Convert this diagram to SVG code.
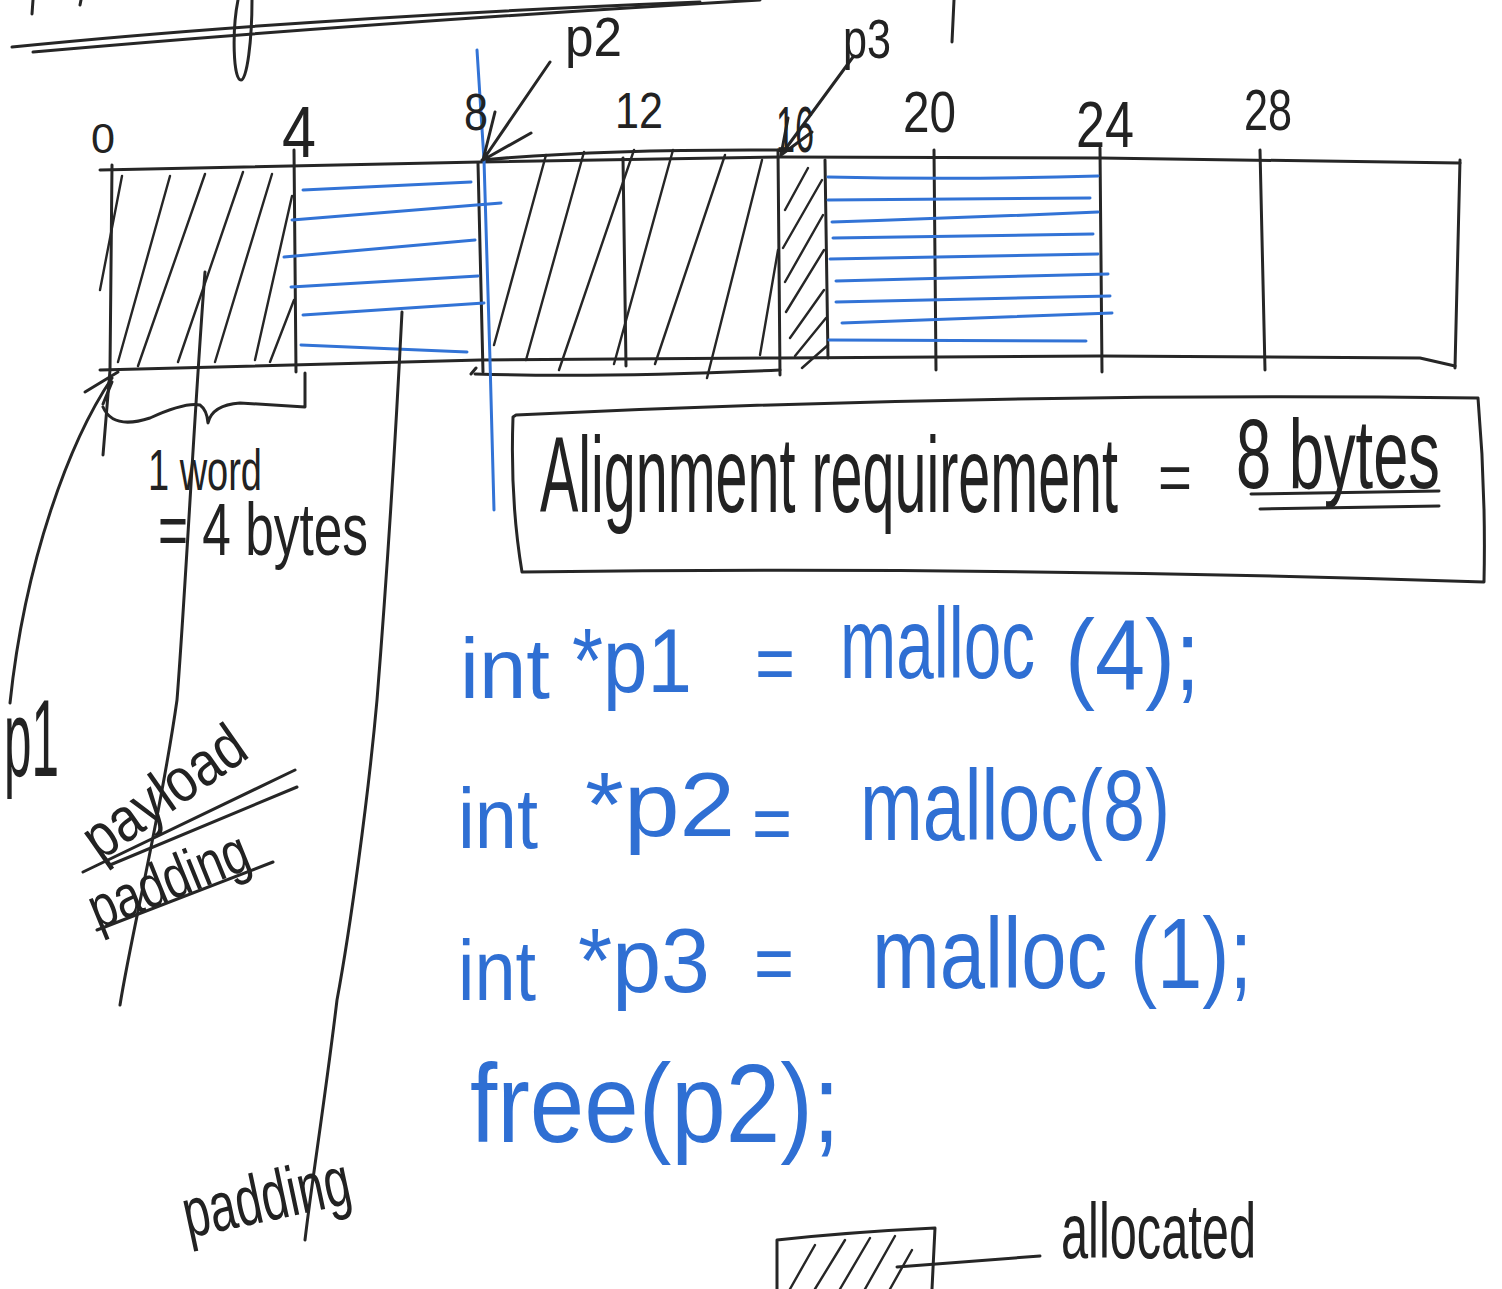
<svg xmlns="http://www.w3.org/2000/svg" width="1502" height="1289" viewBox="0 0 1502 1289">
<style>
.k{fill:none;stroke:#262626;stroke-width:3;stroke-linecap:round;stroke-linejoin:round}
.kt{fill:none;stroke:#262626;stroke-width:2.4;stroke-linecap:round}
.b{fill:none;stroke:#3273d6;stroke-width:3;stroke-linecap:round;stroke-linejoin:round}
.tk{font-family:"Liberation Sans","DejaVu Sans",sans-serif;fill:#222}
.tb{font-family:"Liberation Sans","DejaVu Sans",sans-serif;fill:#2f6fd3}
</style>
<rect width="1502" height="1289" fill="#ffffff"/>

<g id="header-scribble">
<path class="k" d="M12,47 Q300,18 700,2"/>
<path class="k" d="M33,52 Q350,24 760,0"/>
<path class="k" d="M33,0 L32,14 M81,0 L80,5"/>
<path class="k" d="M252,0 C252,40 247,80 241,80 C233,80 232,30 238,0"/>
<path class="k" d="M954,0 L952,42"/>
</g>

<g id="memory-bar">
<path class="k" d="M100,170 L480,162 L780,157 L1100,158 L1460,163"/>
<path class="k" d="M482,160 Q600,149 780,150"/>
<path class="k" d="M100,370 L480,360 L780,358 L1100,356 L1420,358 L1455,366"/>
<path class="k" d="M475,374 Q600,378 780,370"/>
<path class="k" d="M1460,160 L1455,368"/>
<path class="k" d="M112,165 L110,370 L103,455"/>
<path class="k" d="M294,150 L296,372"/>
<path class="k" d="M478,163 L483,372 M476,368 L471,374"/>
<path class="k" d="M623,158 L626,366"/>
<path class="k" d="M778,150 L780,375"/>
<path class="k" d="M825,160 L828,358"/>
<path class="k" d="M934,150 L936,370"/>
<path class="k" d="M1100,148 L1102,372"/>
<path class="k" d="M1260,150 L1265,370"/>
</g>

<g id="hatch-allocated">
<path class="kt" d="M100,290 L122,176 M118,362 L170,176 M138,366 L205,174 M178,362 L243,172 M215,362 L272,174 M255,360 L292,196 M270,362 L294,300"/>
<path class="kt" d="M494,345 L546,155 M526,360 L584,152 M559,370 L634,150 M614,364 L673,150 M655,364 L725,155 M707,378 L762,160 M760,355 L778,250"/>
<path class="kt" d="M785,210 L808,168 M783,248 L822,180 M785,282 L823,215 M786,312 L824,250 M790,338 L824,290 M795,356 L826,318 M802,368 L828,345"/>
</g>

<g id="padding-lines">
<path class="b" d="M303,190 L471,182 M292,220 L501,203 M284,257 L475,240 M291,287 L478,276 M303,315 L484,303 M301,345 L467,352"/>
<path class="b" d="M828,177 Q960,180 1098,176 M828,200 L1090,198 M832,222 Q960,218 1098,212 M833,238 L1093,234 M830,259 L1098,254 M836,281 L1108,274 M836,302 L1110,296 M842,323 L1112,313 M829,340 Q960,341 1086,341"/>
<path class="b" d="M477,50 L484,160 L490,360 L494,510"/>
</g>

<g id="pointers">
<path class="k" d="M550,62 L483,160 M495,112 L483,160 L531,133"/>
<path class="k" d="M853,57 L781,155 M788,118 L781,155 L812,132"/>
<path class="k" d="M112,378 C70,440 25,560 10,703"/>
<path class="k" d="M85,392 L118,372 M103,404 L112,382"/>
<path class="k" d="M205,272 C195,400 185,600 177,700 C160,820 132,930 120,1005"/>
<path class="k" d="M402,312 C395,450 385,600 377,700 C368,800 350,930 337,1000 C325,1100 312,1180 305,1240"/>
<path class="k" d="M103,407 Q113,430 150,418 Q185,402 200,405 Q207,410 208,423 Q212,405 240,403 L305,407 L305,373"/>
</g>

<g id="scale-labels">
<text class="tk" x="91" y="153" font-size="42" textLength="24" lengthAdjust="spacingAndGlyphs">0</text>
<text class="tk" x="282" y="157" font-size="72" textLength="34" lengthAdjust="spacingAndGlyphs">4</text>
<text class="tk" x="464" y="130" font-size="52" textLength="24" lengthAdjust="spacingAndGlyphs">8</text>
<text class="tk" x="615" y="128" font-size="50" textLength="48" lengthAdjust="spacingAndGlyphs">12</text>
<text class="tk" x="776" y="152" font-size="64" textLength="38" lengthAdjust="spacingAndGlyphs">16</text>
<text class="tk" x="903" y="132" font-size="58" textLength="53" lengthAdjust="spacingAndGlyphs">20</text>
<text class="tk" x="1076" y="147" font-size="65" textLength="58" lengthAdjust="spacingAndGlyphs">24</text>
<text class="tk" x="1244" y="130" font-size="58" textLength="48" lengthAdjust="spacingAndGlyphs">28</text>
<text class="tk" x="565" y="56" font-size="56" textLength="57" lengthAdjust="spacingAndGlyphs">p2</text>
<text class="tk" x="843" y="58" font-size="56" textLength="48" lengthAdjust="spacingAndGlyphs">p3</text>
</g>

<g id="word-label">
<text class="tk" x="148" y="490" font-size="58" textLength="114" lengthAdjust="spacingAndGlyphs">1 word</text>
<text class="tk" x="158" y="555" font-size="75" textLength="210" lengthAdjust="spacingAndGlyphs">= 4 bytes</text>
</g>

<g id="p1-label">
<text class="tk" x="4" y="776" font-size="110" textLength="55" lengthAdjust="spacingAndGlyphs">p1</text>
</g>

<g id="payload-label">
<text class="tk" x="0" y="0" font-size="62" textLength="185" lengthAdjust="spacingAndGlyphs" transform="translate(100,862) rotate(-35)">payload</text>
<path class="k" d="M83,872 L295,770 M110,865 L297,787"/>
<text class="tk" x="0" y="0" font-size="60" textLength="168" lengthAdjust="spacingAndGlyphs" transform="translate(98,930) rotate(-22)">padding</text>
<path class="k" d="M97,930 L273,862"/>
</g>

<g id="padding-label">
<text class="tk" x="0" y="0" font-size="70" textLength="170" lengthAdjust="spacingAndGlyphs" transform="translate(188,1238) rotate(-12)">padding</text>
</g>

<g id="alignment-box">
<path class="k" d="M516,415 Q1000,392 1478,398 Q1486,490 1484,582 Q1000,566 522,572 Q510,500 513,417 Z"/>
<text class="tk" x="540" y="512" font-size="108" textLength="578" lengthAdjust="spacingAndGlyphs">Alignment requirement</text>
<text class="tk" x="1158" y="500" font-size="66" textLength="34" lengthAdjust="spacingAndGlyphs">=</text>
<text class="tk" x="1236" y="488" font-size="98" textLength="204" lengthAdjust="spacingAndGlyphs">8 bytes</text>
<path class="k" d="M1251,494 L1439,491 M1260,509 L1439,506"/>
</g>

<g id="code">
<text class="tb" x="460" y="698" font-size="85" textLength="90" lengthAdjust="spacingAndGlyphs">int</text>
<text class="tb" x="572" y="692" font-size="90" textLength="120" lengthAdjust="spacingAndGlyphs">*p1</text>
<text class="tb" x="755" y="690" font-size="80" textLength="40" lengthAdjust="spacingAndGlyphs">=</text>
<text class="tb" x="840" y="678" font-size="100" textLength="195" lengthAdjust="spacingAndGlyphs">malloc</text>
<text class="tb" x="1065" y="690" font-size="100" textLength="135" lengthAdjust="spacingAndGlyphs">(4);</text>

<text class="tb" x="458" y="848" font-size="85" textLength="80" lengthAdjust="spacingAndGlyphs">int</text>
<text class="tb" x="585" y="836" font-size="90" textLength="150" lengthAdjust="spacingAndGlyphs">*p2</text>
<text class="tb" x="752" y="850" font-size="80" textLength="40" lengthAdjust="spacingAndGlyphs">=</text>
<text class="tb" x="860" y="840" font-size="100" textLength="310" lengthAdjust="spacingAndGlyphs">malloc(8)</text>

<text class="tb" x="458" y="1000" font-size="85" textLength="78" lengthAdjust="spacingAndGlyphs">int</text>
<text class="tb" x="578" y="992" font-size="90" textLength="132" lengthAdjust="spacingAndGlyphs">*p3</text>
<text class="tb" x="754" y="990" font-size="80" textLength="40" lengthAdjust="spacingAndGlyphs">=</text>
<text class="tb" x="872" y="988" font-size="100" textLength="380" lengthAdjust="spacingAndGlyphs">malloc (1);</text>

<text class="tb" x="470" y="1142" font-size="112" textLength="370" lengthAdjust="spacingAndGlyphs">free(p2);</text>
</g>

<g id="legend">
<path class="k" d="M777,1289 L777,1240 Q850,1232 935,1228 L932,1289"/>
<path class="kt" d="M790,1289 L815,1245 M815,1289 L845,1240 M840,1289 L870,1238 M865,1289 L895,1236 M890,1289 L912,1250"/>
<path class="k" d="M897,1267 L1040,1256"/>
<text class="tk" x="1061" y="1258" font-size="78" textLength="195" lengthAdjust="spacingAndGlyphs">allocated</text>
</g>
</svg>
